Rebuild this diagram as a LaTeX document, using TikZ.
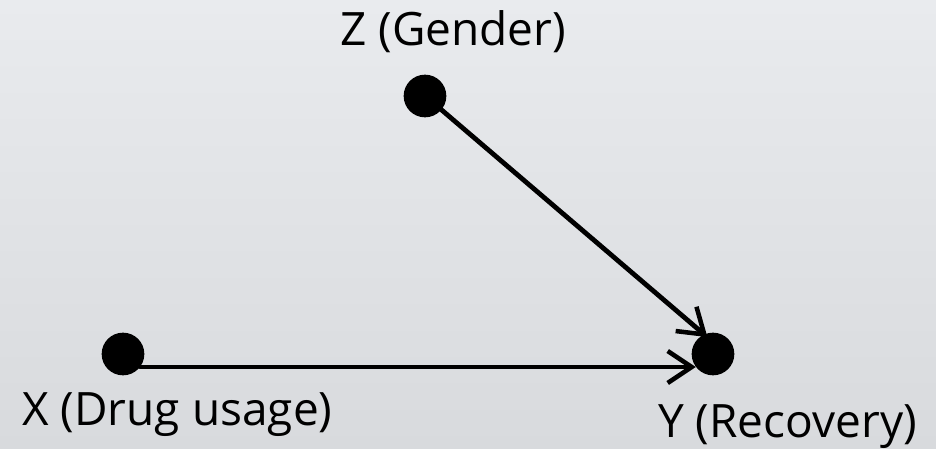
\documentclass[tikz,border=0pt]{standalone}
\usepackage{fontspec}
\setmainfont{Open Sans}
\usepackage{xcolor}
\usepackage{tikz}
\usetikzlibrary{arrows.meta,positioning,calc}
\definecolor{bgtop}{RGB}{233,235,238}
\definecolor{bgbottom}{RGB}{216,218,221}
\tikzset{
  vardot/.style={circle,fill=black,inner sep=0pt,minimum size=32},
  varlabel/.style={font=\fontsize{34.5}{40}\selectfont,inner sep=0pt},
  causearrow/.style={-{Straight Barb[length=18pt,width=24pt,line width=3.4pt]},line width=3.6pt,line cap=round}
}

\begin{document}
\begin{tikzpicture}[x=0.75pt,y=-0.75pt]
  \shade[top color=bgtop,bottom color=bgbottom] (0,0) rectangle (936,449);
  \useasboundingbox (0,0) rectangle (936,449);
  \node[vardot] (z) at (425,96) {};
  \node[vardot] (x) at (123,354) {};
  \node[vardot] (y) at (713,354) {};
  \node[varlabel,anchor=base west] (zlab) at (340,46) {Z (Gender)};
  \node[varlabel,anchor=base west] (xlab) at (22,425) {X (Drug usage)};
  \node[varlabel,anchor=base west] (ylab) at (658,437) {Y (Recovery)};
  \draw[causearrow] (x.-37) -- (y.-143);
  \draw[causearrow] (z.-40) -- ([yshift=-3]y.105);
\end{tikzpicture}
\end{document}
